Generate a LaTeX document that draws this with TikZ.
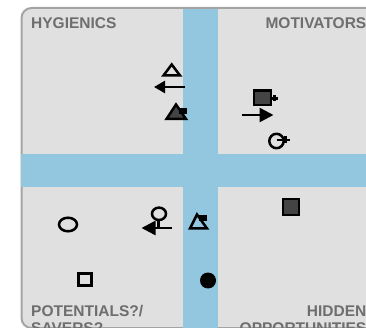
\documentclass[tikz,border=0pt]{standalone}
\usepackage{fontspec}
\setmainfont{Liberation Sans}
\usetikzlibrary{arrows.meta}
\definecolor{panelfill}{HTML}{E0E0E0}
\definecolor{panelline}{HTML}{A4A4A4}
\definecolor{bandblue}{HTML}{93C6DF}
\definecolor{labelgray}{HTML}{6E6E6E}
\definecolor{darkfill}{HTML}{444444}
\tikzset{
  mk/.style={draw=black, line width=2.5pt},
  lbl/.style={text=labelgray, font=\bfseries\fontsize{15.5}{17}\selectfont, inner sep=0pt},
  band/.style={fill=bandblue, draw=none},
  arrowL/.style={mk, -{Triangle[length=11pt,width=12pt]}},
  arrowB/.style={mk, -{Triangle[length=14pt,width=14pt]}}
}
\begin{document}
\begin{tikzpicture}[x=1pt,y=-1pt]
\useasboundingbox (0,0) rectangle (366,328);
\clip (0,0) rectangle (366,328);
% panel
\draw[fill=panelfill, draw=panelline, line width=2pt, rounded corners=10pt] (21.5,8) rectangle (420,328);
% bands
\fill[band] (183,9) rectangle (218,340);
\fill[band] (20.5,154) rectangle (380,187);
% labels
\node[lbl, anchor=base west] (hyg) at (31,29) {HYGIENICS};
\node[lbl, anchor=base east] (mot) at (366.5,29) {MOTIVATORS};
\node[lbl, anchor=base west] (pot) at (31,316) {POTENTIALS?/};
\node[lbl, anchor=base west] (sav) at (31,333) {SAVERS?};
\node[lbl, anchor=base east] (hid) at (366.5,316) {HIDDEN};
\node[lbl, anchor=base east] (opp) at (366.5,333) {OPPORTUNITIES};
% hygienics markers
\draw[mk, line join=miter] (163.5,75.5) -- (180,75.5) -- (171.7,64.5) -- cycle;
\coordinate (a1s) at (184.5,87);
\coordinate (a1e) at (154,87);
\draw[arrowL] (a1s) -- (a1e);
\draw[mk, fill=darkfill] (166.5,119) -- (186,119) -- (176,104.5) -- cycle;
\fill[black] (178.5,108.5) rectangle (186.5,114.5);
% motivators markers
\draw[mk, fill=darkfill] (254,90.5) rectangle (271,105);
\draw[mk] (271,98.3) -- (278,98.3);
\draw[mk] (274.5,95.5) -- (274.5,101.5);
\coordinate (a2s) at (242,115);
\coordinate (a2e) at (273.5,115);
\draw[arrowB] (a2s) -- (a2e);
\draw[mk] (276.5,141) circle (7.2);
\draw[mk] (276.5,140) -- (290,140);
\draw[mk] (285.5,136.5) -- (285.5,143.5);
% potentials markers
\draw[mk] (68,224.5) ellipse (9 and 6.8);
\draw[mk] (159,213.8) ellipse (7 and 6.2);
\draw[mk] (158.5,220) -- (158.5,228);
\coordinate (a3s) at (172,228);
\coordinate (a3e) at (141.5,228);
\draw[arrowB] (a3s) -- (a3e);
\draw[mk] (78.5,273.5) rectangle (91.5,285.5);
% hidden / band markers
\draw[mk, line join=miter] (190,228.5) -- (207,228.5) -- (197,214.5) -- cycle;
\fill[black] (198.5,215.5) rectangle (207,221.5);
\draw[mk, fill=darkfill] (283,199) rectangle (299,215);
\fill[black] (208,280.5) circle (8);
\end{tikzpicture}
\end{document}
